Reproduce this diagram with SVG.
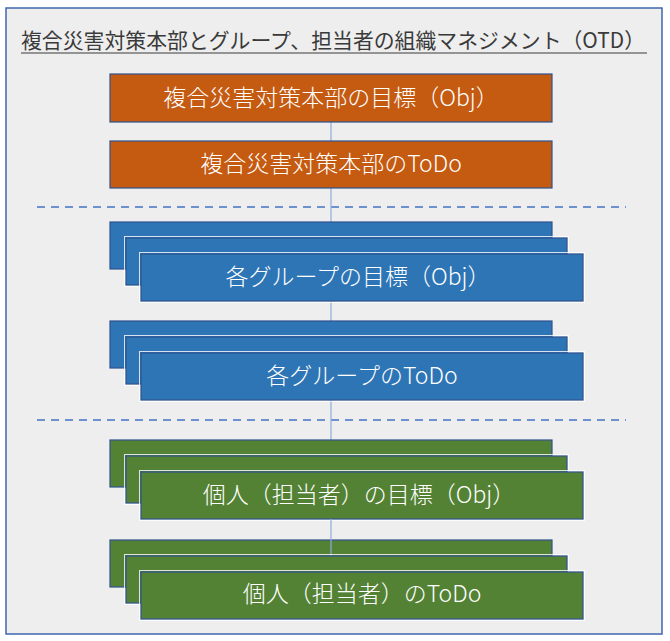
<svg xmlns="http://www.w3.org/2000/svg" width="670" height="641" viewBox="0 0 670 641">
<style>
.frame{fill:#EEEEEE;stroke:#3F67AE;stroke-width:1.5}
.title{font-family:"Noto Sans CJK JP","Liberation Sans",sans-serif;font-size:21px;fill:#3A3A3A}
.lbl{font-family:"Noto Sans CJK JP","Liberation Sans",sans-serif;font-size:23px;fill:#FFFFFF;text-anchor:middle;font-weight:300}
.bx{stroke:#2F528F;stroke-width:1.2}
.o{fill:#C55A11}
.b{fill:#2E75B6}
.g{fill:#548235}
.halo{fill:none;stroke:#FFFFFF;stroke-width:1;opacity:0.8}
.dash{stroke:#4472C4;stroke-width:1.5;stroke-dasharray:8 6;fill:none}
.conn{stroke:#8FAADC;stroke-width:1.2;fill:none}
</style>
<rect class="frame" x="6" y="8" width="656" height="626"/>
<g id="title">
<text class="title" x="21" y="48" textLength="624" lengthAdjust="spacingAndGlyphs">複合災害対策本部とグループ、担当者の組織マネジメント（OTD）</text>
<line x1="21" y1="53" x2="647" y2="53" stroke="#3A3A3A" stroke-width="1.2"/>
</g>
<g id="separators">
<line class="dash" x1="37" y1="207" x2="626" y2="207"/>
<line class="dash" x1="37" y1="420" x2="626" y2="420"/>
</g>
<g id="connectors">
<line class="conn" x1="331" y1="122" x2="331" y2="141"/>
<line class="conn" x1="331" y1="188" x2="331" y2="222"/>
<line class="conn" x1="331" y1="301" x2="331" y2="321"/>
<line class="conn" x1="331" y1="400" x2="331" y2="440"/>
</g>
<g id="hq-obj">
<rect class="bx o" x="110" y="74" width="442" height="48"/>
<text class="lbl" x="331" y="106">複合災害対策本部の目標（Obj）</text>
</g>
<g id="hq-todo">
<rect class="bx o" x="110" y="141" width="442" height="47"/>
<text class="lbl" x="331" y="172">複合災害対策本部のToDo</text>
</g>
<g id="group-obj">
<rect class="bx b" x="110" y="222" width="442" height="47"/>
<rect class="halo" x="124.5" y="236.5" width="444" height="50"/>
<rect class="bx b" x="126" y="238" width="441" height="47"/>
<rect class="halo" x="139.5" y="252.5" width="445" height="50"/>
<rect class="bx b" x="141" y="254" width="442" height="47"/>
<text class="lbl" x="358" y="285">各グループの目標（Obj）</text>
</g>
<g id="group-todo">
<rect class="bx b" x="110" y="321" width="442" height="47"/>
<rect class="halo" x="124.5" y="335.5" width="444" height="50"/>
<rect class="bx b" x="126" y="337" width="441" height="47"/>
<rect class="halo" x="139.5" y="351.5" width="445" height="50"/>
<rect class="bx b" x="141" y="353" width="442" height="47"/>
<text class="lbl" x="362" y="384">各グループのToDo</text>
</g>
<g id="person-obj">
<rect class="bx g" x="110" y="440" width="442" height="47"/>
<rect class="halo" x="124.5" y="454.5" width="444" height="50"/>
<rect class="bx g" x="126" y="456" width="441" height="47"/>
<rect class="halo" x="139.5" y="470.5" width="445" height="50"/>
<rect class="bx g" x="141" y="472" width="442" height="47"/>
<text class="lbl" x="359" y="503">個人（担当者）の目標（Obj）</text>
</g>
<g id="person-todo">
<rect class="bx g" x="110" y="540" width="442" height="47"/>
<line class="conn" x1="331" y1="519" x2="331" y2="556"/>
<rect class="halo" x="124.5" y="554.5" width="444" height="50"/>
<rect class="bx g" x="126" y="556" width="441" height="47"/>
<rect class="halo" x="139.5" y="570.5" width="445" height="50"/>
<rect class="bx g" x="141" y="572" width="442" height="47"/>
<text class="lbl" x="362" y="602">個人（担当者）のToDo</text>
</g>
</svg>
